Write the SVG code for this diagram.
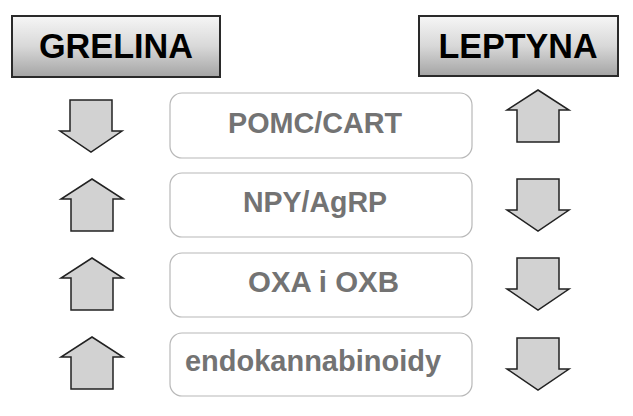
<svg xmlns="http://www.w3.org/2000/svg" width="633" height="416" viewBox="0 0 633 416">
<defs>
<linearGradient id="hdr" x1="0" y1="0" x2="0" y2="1">
<stop offset="0" stop-color="#f6f6f6"/>
<stop offset="0.5" stop-color="#d8d8d8"/>
<stop offset="1" stop-color="#a4a4a4"/>
</linearGradient>
<path id="up" d="M0,0 L31,20 L21,20 L21,52 L-21,52 L-21,20 L-31,20 Z"/>
<path id="down" d="M-21,0 L21,0 L21,31 L31,31 L0,52 L-31,31 L-21,31 Z"/>
</defs>
<style>
.hdr{fill:url(#hdr);stroke:#2a2a2a;stroke-width:2}
.htxt{font-family:"Liberation Sans",Arial,sans-serif;font-weight:bold;font-size:35px;fill:#000;text-anchor:middle}
.box{fill:#fff;stroke:#b8b8b8;stroke-width:1.2}
.btxt{font-family:"Liberation Sans",Arial,sans-serif;font-weight:bold;font-size:29px;fill:#737373}
.arr{fill:#d2d2d2;stroke:#222;stroke-width:1.5;stroke-linejoin:miter}
</style>
<rect width="633" height="416" fill="#fff"/>
<g id="grelina">
<rect class="hdr" x="12" y="16" width="208" height="61"/>
<text class="htxt" x="116" y="58" textLength="154" lengthAdjust="spacingAndGlyphs">GRELINA</text>
</g>
<g id="leptyna">
<rect class="hdr" x="419" y="16" width="199" height="60"/>
<text class="htxt" x="518" y="58" textLength="159" lengthAdjust="spacingAndGlyphs">LEPTYNA</text>
</g>
<g id="pomc">
<rect class="box" x="170" y="93" width="302" height="65" rx="12"/>
<text class="btxt" x="228" y="133" textLength="174" lengthAdjust="spacingAndGlyphs">POMC/CART</text>
</g>
<g id="npy">
<rect class="box" x="170" y="173" width="302" height="64" rx="12"/>
<text class="btxt" x="243" y="212" textLength="144" lengthAdjust="spacingAndGlyphs">NPY/AgRP</text>
</g>
<g id="oxa">
<rect class="box" x="170" y="253" width="302" height="64" rx="12"/>
<text class="btxt" x="248" y="292" textLength="151" lengthAdjust="spacingAndGlyphs">OXA i OXB</text>
</g>
<g id="endo">
<rect class="box" x="170" y="333" width="302" height="63" rx="12"/>
<text class="btxt" x="185" y="371" textLength="256" lengthAdjust="spacingAndGlyphs">endokannabinoidy</text>
</g>
<g id="arrows">
<use href="#down" class="arr" x="91" y="100"/>
<use href="#up" class="arr" x="92" y="179"/>
<use href="#up" class="arr" x="92" y="258"/>
<use href="#up" class="arr" x="92" y="337"/>
<use href="#up" class="arr" x="538" y="90"/>
<use href="#down" class="arr" x="538" y="179"/>
<use href="#down" class="arr" x="538" y="258"/>
<use href="#down" class="arr" x="538" y="338"/>
</g>
</svg>
